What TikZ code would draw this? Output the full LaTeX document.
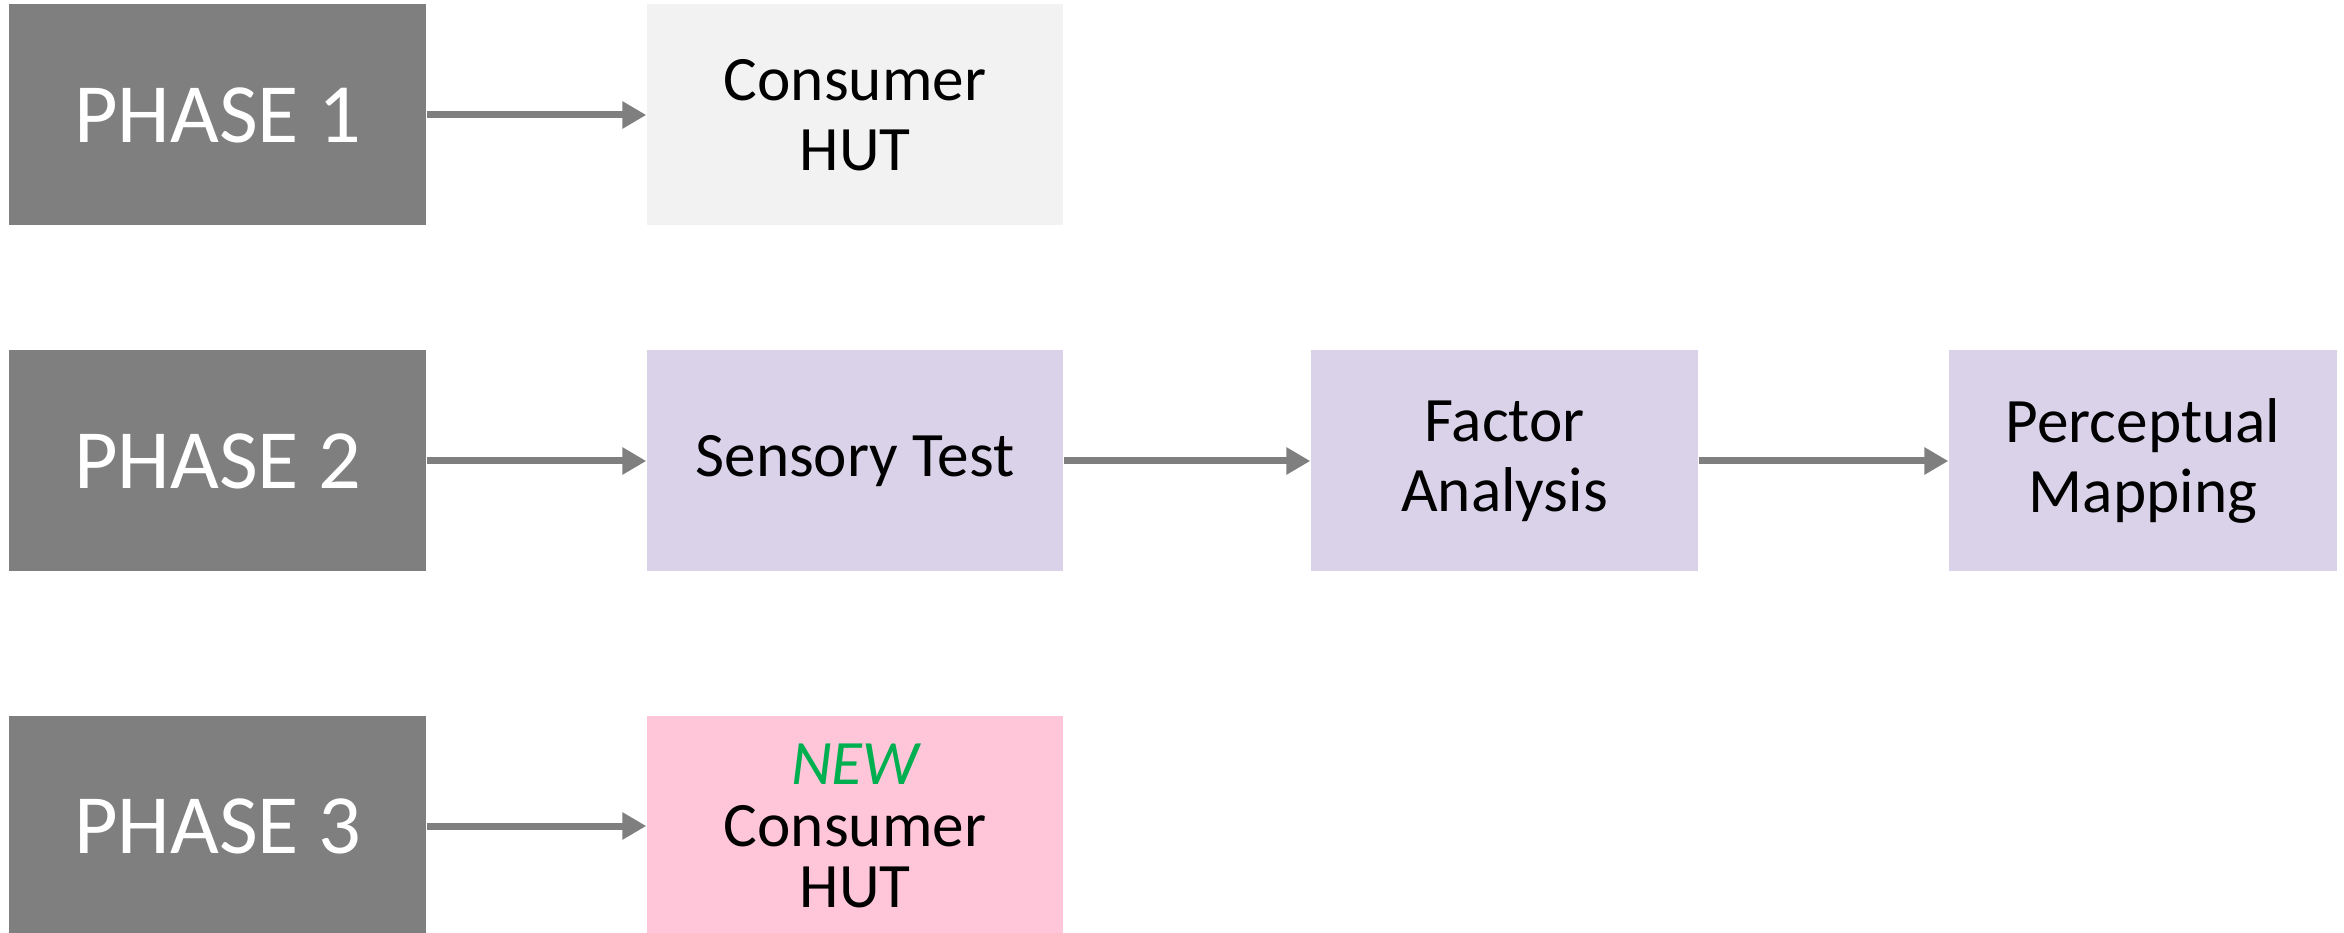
\documentclass[tikz,border=0pt]{standalone}
\usepackage{fontspec}
\setmainfont{Carlito}
\usetikzlibrary{arrows.meta}
\definecolor{phasegray}{RGB}{127,127,127}
\definecolor{hutgray}{RGB}{242,242,242}
\definecolor{steplilac}{RGB}{217,210,233}
\definecolor{newpink}{RGB}{255,198,218}
\definecolor{newgreen}{RGB}{0,176,80}
\begin{document}
\begin{tikzpicture}
                \clip (0,0) rectangle (23.44,9.32);
                \begin{scope}[
                        every node/.style={rectangle, inner sep=0pt, align=center,
                            font=\fontsize{18}{20}\selectfont},
                        phasebox/.style={fill=phasegray, text=white, minimum width=4.17cm,
                            minimum height=2.21cm, font=\fontsize{24}{28}\selectfont},
                        stepbox/.style={minimum width=4.16cm, minimum height=2.21cm}
                    ]

                    \node[phasebox] (p1) at (2.175,8.17) {PHASE 1};
                    \node[phasebox] (p2) at (2.175,4.71) {PHASE 2};
                    \node[phasebox] (p3) at (2.175,1.06) {PHASE 3};

                    \node[stepbox, fill=hutgray] (hut) at (8.55,8.17) {Consumer\\HUT};
                    \node[stepbox, fill=steplilac] (sens) at (8.55,4.71) {Sensory Test};
                    \node[stepbox, fill=steplilac, minimum width=3.87cm] (fact) at (15.045,4.71) {Factor\\Analysis};
                    \node[stepbox, fill=steplilac, minimum width=3.88cm] (perc) at (21.43,4.71) {Perceptual\\Mapping};
                    \node[stepbox, fill=newpink, font=\fontsize{18}{17.6}\selectfont] (newhut) at (8.55,1.06)
                        {\textcolor{newgreen}{\itshape NEW}\\Consumer\\HUT};
                \end{scope}

                \begin{scope}[
                        every edge/.style={draw, phasegray, line width=0.07cm,
                            -{Triangle[length=0.24cm, width=0.26cm]}}
                    ]
                    \draw (p1) edge (hut);
                    \draw (p2) edge (sens);
                    \draw (sens) edge (fact);
                    \draw (fact) edge (perc);
                    \draw (p3) edge (newhut);
                \end{scope}
            \end{tikzpicture}
\end{document}
